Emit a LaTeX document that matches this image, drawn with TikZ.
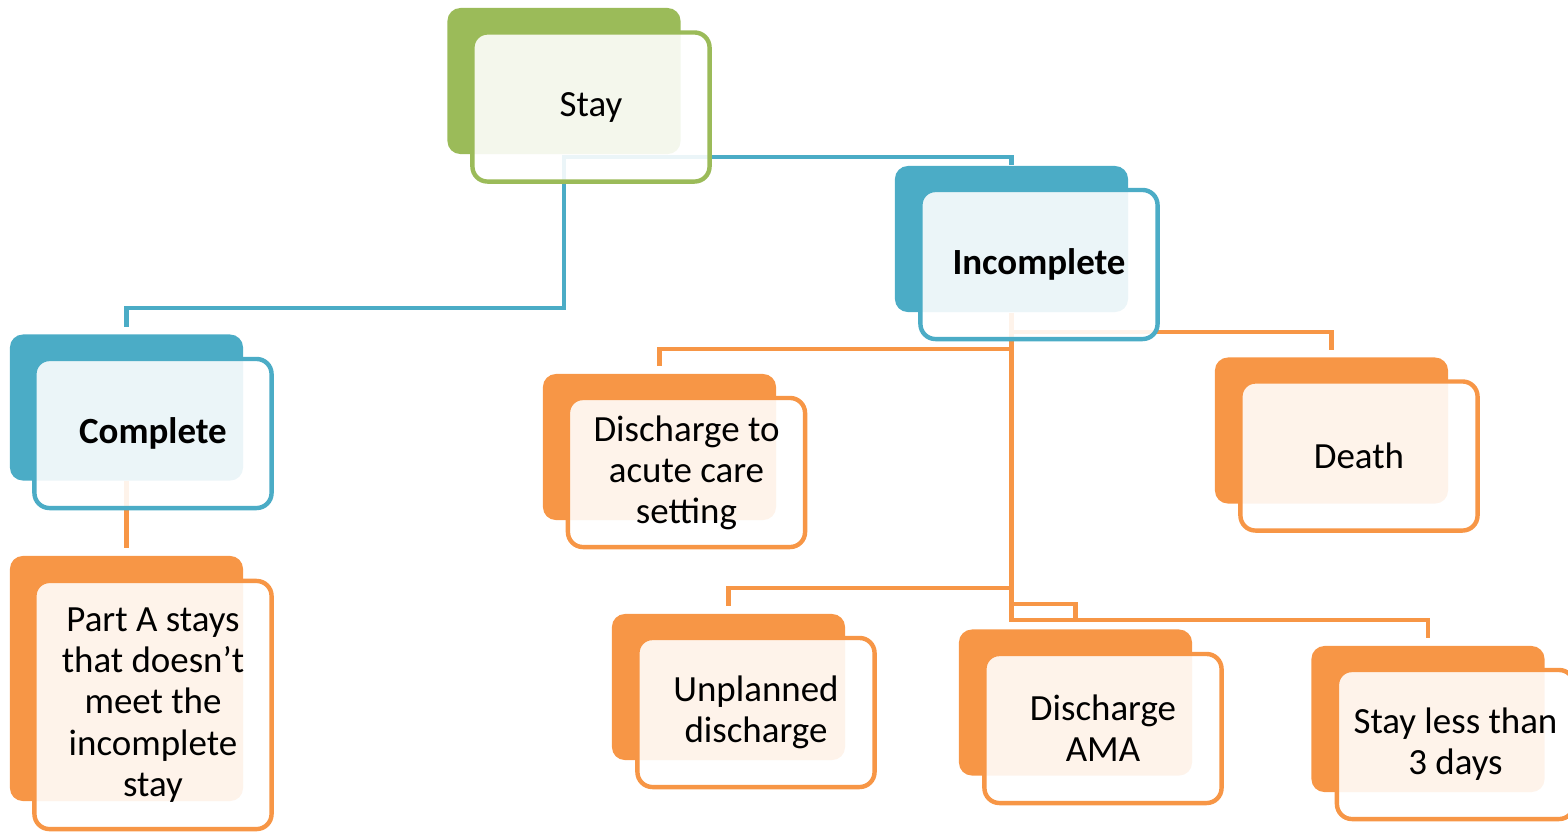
\documentclass[tikz,border=0pt]{standalone}
\usepackage{fontspec}
\setmainfont{Carlito}
\usetikzlibrary{backgrounds}

\begin{document}
\begin{tikzpicture}[x=0.01cm, y=0.01cm,
  back/.style={fill=#1, rounded corners=0.13cm, minimum width=2.33cm, minimum height=1.46cm, inner sep=0pt},
  front/.style={draw=#1, line width=1.25pt, fill=white, fill opacity=0.89, text opacity=1,
    rounded corners=0.15cm, minimum width=2.37cm, minimum height=1.49cm, inner sep=2pt,
    align=center, font=\fontsize{10.5}{11.7}\selectfont},
  link/.style={draw=#1, line width=1.4pt, shorten >=0.07cm}]

% Colours
\definecolor{colStay}{HTML}{9BBB59}
\definecolor{colBlu}{HTML}{4BACC6}
\definecolor{colOra}{HTML}{F79646}

\useasboundingbox (0,0) rectangle (1568,-832);

% Root
\node[back=colStay] (stay-b) at (564,-81) {};
\node[front=colStay] (stay) at (591,-107) {Stay};

% Second level
\node[back=colBlu] (incomp-b) at (1011.5,-239) {};
\node[front=colBlu] (incomp) at (1039,-264.5) {\bfseries Incomplete};

\node[back=colBlu] (comp-b) at (126.5,-407.5) {};
\node[front=colBlu] (comp) at (153,-433.5) {\bfseries Complete};

% Under Complete
\node[back=colOra, minimum height=2.45cm] (partA-b) at (126.5,-678.5) {};
\node[front=colOra, minimum height=2.48cm] (partA) at (153,-705)
  {Part A stays\\that doesn’t\\meet the\\incomplete\\stay};

% Under Incomplete
\node[back=colOra] (acute-b) at (659.5,-447) {};
\node[front=colOra] (acute) at (686.5,-472.5) {Discharge to\\acute care\\setting};

\node[back=colOra] (death-b) at (1331.5,-430.5) {};
\node[front=colOra] (death) at (1359,-456) {Death};

\node[back=colOra] (unpl-b) at (728.5,-687) {};
\node[front=colOra] (unpl) at (756,-712.5) {Unplanned\\discharge};

\node[back=colOra] (ama-b) at (1075.5,-702.5) {};
\node[front=colOra] (ama) at (1103,-728.5) {Discharge\\AMA};

\node[back=colOra] (short-b) at (1428,-719) {};
\node[front=colOra] (short) at (1455.5,-744.5) {Stay less than\\3 days};

% Connectors (behind the boxes)
\begin{scope}[on background layer]
\draw[link=colBlu] (stay-b.south) -- (stay-b.south |- 0,-308) -| (comp-b.north);
\draw[link=colBlu, shorten >=0pt] (stay-b.south |- 0,-157) -| (incomp-b.north);

\draw[link=colOra] (comp-b.south) -- (partA-b.north);

\draw[link=colOra] (incomp-b.south) -- (incomp-b.south |- 0,-349) -| (acute-b.north);
\draw[link=colOra] (incomp-b.south) -- (incomp-b.south |- 0,-332) -| (death-b.north);
\draw[link=colOra] (incomp-b.south) -- (incomp-b.south |- 0,-588) -| (unpl-b.north);
\draw[link=colOra] (incomp-b.south) -- (incomp-b.south |- 0,-604) -| (ama-b.north);
\draw[link=colOra] (incomp-b.south) -- (incomp-b.south |- 0,-620) -| (short-b.north);
\end{scope}

\end{tikzpicture}
\end{document}
